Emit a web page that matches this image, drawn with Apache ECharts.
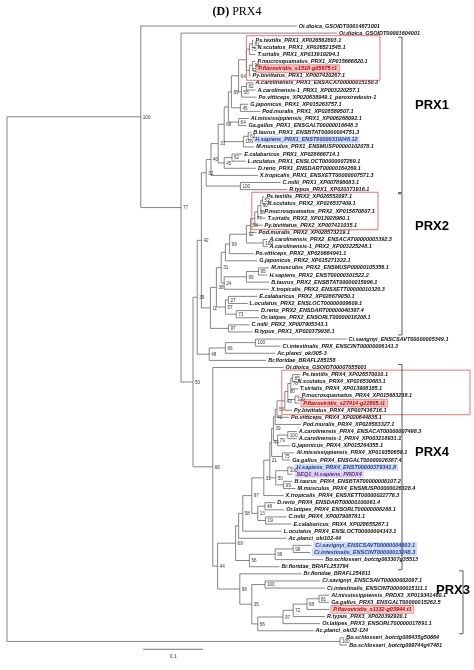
<!DOCTYPE html>
<html><head><meta charset="utf-8">
<script src="https://cdn.jsdelivr.net/npm/echarts@6/dist/echarts.min.js"></script>
<style>html,body{margin:0;padding:0;background:#fff}#c{width:474px;height:670px}</style>
</head><body><div id="c"></div>
<script>
// ---- DATA: tree pieces in Newick (branch lengths in substitutions/site, internal labels = bootstrap) ----
const prx1Clade = "(((((" + "(((((Ps.textilis_PRX1_XP026562803.1:0.002,N.scutatus_PRX1_XP026521545.1:0.005)81:0.005,T.sirtalis_PRX1_XP013919294.1:0.010)75:0.005,((P.mucrosquamatus_PRX1_XP015666820.1:0.005,P.flavoviridis_s1518-g05675.t1:0.003)96:0.005,Py.bivittatus_PRX1_XP007420267.1:0.002)42:0.005):0.013,((A.carolinensis_PRX1_ENSACAT00000015150.3:0.012,A.carolinensis-1_PRX1_XP003220257.1:0.015)82:0.008,Po.vitticeps_XP020638949.1_peroxiredoxin-1:0.025)56:0.005)64:0.012,(G.japonicus_PRX1_XP015263757.1:0.013,Pod.muralis_PRX1_XP028589507.1:0.033)45:0.015)89:0.005,(Al.mississippiensis_PRX1_XP006268092.1:0.017,Ga.gallus_PRX1_ENSGALT00000016648.3:0.013)64:0.017):0.007,((B.taurus_PRX1_ENSBTAT00000004751.3:0.005,H.sapiens_PRX1_ENST00000319248.12:0.005)62:0.008,M.musculus_PRX1_ENSMUSP00000102078.1:0.018)100:0.032)68:0.010,((E.calabaricus_PRX1_XP028666714.1:0.017,L.oculatus_PRX1_ENSLOCT00000007269.1:0.023)62:0.013,D.rerio_PRX1_ENSDART00000164269.1:0.053)45:0.010)33:0.012,X.tropicalis_PRX1_ENSXETT00000007571.3:0.078)40:0.008,(C.milii_PRX1_XP007898083.1:0.067,R.typus_PRX1_XP020371916.1:0.078)100:0.057)32:0.008";
const prx2Clade = "(((((" + "((((((Ps.textilis_PRX2_XP026552097.1:0.003,N.scutatus_PRX2_XP026537409.1:0.005)52:0.003,P.mucrosquamatus_PRX2_XP015670807.1:0.003)90:0.005,T.sirtalis_PRX2_XP013928980.1:0.013)96:0.005,Py.bivittatus_PRX2_XP007421035.1:0.013)77:0.007,Pod.muralis_PRX2_XP028573219.1:0.010)58:0.007,(A.carolinensis_PRX2_ENSACAT00000003392.3:0.007,A.carolinensis-1_PRX2_XP003225248.1:0.007)100:0.028)92:0.028,Po.vitticeps_PRX2_XP020664941.1:0.040)99:0.007,G.japonicus_PRX2_XP015271322.1:0.053):0.007,(((M.musculus_PRX2_ENSMUSP00000105356.1:0.018,H.sapiens_PRX2_ENST00000301522.2:0.015)95:0.020,B.taurus_PRX2_ENSBTAT00000015996.1:0.038)99:0.037,X.tropicalis_PRX2_ENSXETT00000010320.3:0.075)24:0.005)31:0.008,((E.calabaricus_PRX2_XP028679050.1:0.048,L.oculatus_PRX2_ENSLOCT00000009609.1:0.032)27:0.005,(D.rerio_PRX2_ENSDART00000040397.4:0.038,Or.latipes_PRX2_ENSORLT00000018208.1:0.038)73:0.018)57:0.015)38:0.010,(C.milii_PRX2_XP007905343.1:0.035,R.typus_PRX1_XP020379938.1:0.040)97:0.030)11:0.015";
const invClade = "(((Ci.savignyi_ENSCSAVT00000005349.1:0.152,Ci.intestinalis_PRX_ENSCINT00000006141.3:0.042)100:0.050,Ac.planci_oki305-3:0.083)66:0.027,Br.floridae_BRAFL285158:0.095)48:0.020";
const prx4Clade = "(((((((" + "(((((((Ps.textilis_PRX4_XP026570010.1:0.013,N.scutatus_PRX4_XP026530683.1:0.005)85:0.003,T.sirtalis_PRX4_XP013908185.1:0.012)78:0.005,(P.mucrosquamatus_PRX4_XP015683238.1:0.008,P.flavoviridis_s27414-g22805.t1:0.007)100:0.012)80:0.005,Py.bivittatus_PRX4_XP007436716.1:0.012)43:0.013,Po.vitticeps_PRX4_XP020644835.1:0.020)56:0.003,Pod.muralis_PRX4_XP028583327.1:0.043)40:0.003,((A.carolinensis_PRX4_ENSACAT00000007498.3:0.015,A.carolinensis-1_PRX4_XP003218931.1:0.015)100:0.017,G.japonicus_PRX4_XP015264355.1:0.020)79:0.007)39:0.003,(Al.mississippiensis_PRX4_XP019350659.1:0.020,Ga.gallus_PRX4_ENSGALT00000026387.4:0.013)75:0.018)44:0.003,((H.sapiens_PRX4_ENST00000379341.8:0.008,SEQ1_H.sapiens_PRDX4:0.008)100:0.020,(B.taurus_PRX4_ENSBTAT00000008107.2:0.015,M.musculus_PRX4_ENSMUSP00000026328.4:0.020)99:0.013)50:0.010)21:0.010,X.tropicalis_PRX4_ENSXETT00000022776.3:0.033)31:0.020,((D.rerio_PRX4_ENSDART00000100061.4:0.017,Or.latipes_PRX4_ENSORLT00000008268.1:0.032)48:0.012,(C.milii_PRX4_XP007908781.1:0.035,E.calabaricus_PRX4_XP028655267.1:0.043)19:0.013)13:0.010)97:0.015,L.oculatus_PRX4_ENSLOCT00000004143.1:0.065)58:0.007,Ac.planci_oki102-44:0.080):0.005,(((Ci.savignyi_ENSCSAVT00000004003.1:0.030,Ci.intestinalis_ENSCINT00000013248.3:0.028)99:0.030,Bo.schlosseri_botctg063307g35513:0.080)99:0.043,Br.floridae_BRAFL253794:0.050)56:0.023)69:0.030";
const prx3Clade = "(Br.floridae_BRAFL254811:0.103,((Ci.savignyi_ENSCSAVT00000002097.1:0.092,Ci.intestinalis_ENSCINT00000015111.1:0.100)100:0.022,(((((Al.mississippiensis_PRDX3_XP019341460.1:0.017,Ga.gallus_PRX3_ENSGALT00000015262.5:0.017)81:0.020,P.flavoviridis_s1132-g03944.t1:0.037)68:0.023,R.typus_PRX3_XP020392920.1:0.053)72:0.017,Or.latipes_PRX3_ENSORLT00000017891.1:0.062)97:0.042,Ac.planci_oki32-124:0.093)56:0.010)35:0.020)98:0.037";
const backbone = "((Oi.dioica_GSOIDT00014671001:0.260,(Oi.dioica_GSOIDT00001604001:0.260,((({PRX1},{PRX2})42:0.007,{INV})39:0.007,(Oi.dioica_GSOIDT00007055001:0.118,({PRX4},{PRX3})44:0.008)66:0.033)50:0.020)77:0.067)100:0.223,(Bo.schlosseri_botctg006435g50664:0.007,Bo.schlosseri_botctg099744g47481:0.012)100:0.555);";

const redLeaves = ["P.flavoviridis_s1518-g05675.t1","P.flavoviridis_s27414-g22805.t1","P.flavoviridis_s1132-g03944.t1"];
const blueLeaves = ["H.sapiens_PRX1_ENST00000319248.12","H.sapiens_PRX4_ENST00000379341.8","Ci.savignyi_ENSCSAVT00000004003.1","Ci.intestinalis_ENSCINT00000013248.3"];
const purpleLeaves = ["SEQ1_H.sapiens_PRDX4"];
const snakeBoxes = [["Ps.textilis_PRX1_XP026562803.1","Py.bivittatus_PRX1_XP007420267.1"],["Ps.textilis_PRX2_XP026552097.1","Py.bivittatus_PRX2_XP007421035.1"],["Ps.textilis_PRX4_XP026570010.1","Py.bivittatus_PRX4_XP007436716.1"]];
const cladeNames = ["PRX1","PRX2","PRX4","PRX3"];
const cladeFirst = ["Ps.textilis_PRX1_XP026562803.1","Ps.textilis_PRX2_XP026552097.1","Oi.dioica_GSOIDT00007055001","Br.floridae_BRAFL254811"];
const cladeLast = ["R.typus_PRX1_XP020371916.1","R.typus_PRX1_XP020379938.1","Br.floridae_BRAFL253794","Ac.planci_oki32-124"];
const scaleBarLength = 0.1;

// ---- build ----
const newick = backbone.replace("{PRX1}",prx1Clade).replace("{PRX2}",prx2Clade).replace("{INV}",invClade).replace("{PRX4}",prx4Clade).replace("{PRX3}",prx3Clade);
function parse(s){let i=0;function node(){const n={children:[],name:'',len:0};if(s[i]==='('){i++;n.children.push(node());while(s[i]===','){i++;n.children.push(node());}i++;}let nm='';while(i<s.length&&!'(),:;'.includes(s[i]))nm+=s[i++];n.name=nm;if(s[i]===':'){i++;let l='';while(i<s.length&&!'(),;'.includes(s[i]))l+=s[i++];n.len=parseFloat(l);}return n;}return node();}
const root=parse(newick);
const nodes=[];let leafIdx=0;
function lay(n,pd){n.depth=pd+n.len;n.pd=pd;if(!n.children.length){n.y=leafIdx++;}else{n.children.forEach(c=>lay(c,n.depth));n.y=(n.children[0].y+n.children[n.children.length-1].y)/2;n.ymin=n.children[0].y;n.ymax=n.children[n.children.length-1].y;}nodes.push(n);}
lay(root,0);
const nLeaves=leafIdx;
const leafByName={};nodes.forEach(n=>{if(!n.children.length)leafByName[n.name]=n;});
function leafY(name){const l=leafByName[name];return l?l.y:0;}
function minDepthBetween(a,b){let m=1e9;nodes.forEach(n=>{if(!n.children.length&&n.y>=a&&n.y<=b)m=Math.min(m,n.pd);});return m;}

const chart=echarts.init(document.getElementById('c'),null,{renderer:'canvas'});
const FONT='Liberation Sans';
function leafStyle(name){
  if(redLeaves.includes(name))return{fill:'#c00000',backgroundColor:'#f6c9c9',borderColor:'#e06060',borderWidth:0.6};
  if(purpleLeaves.includes(name))return{fill:'#5b2c8f',backgroundColor:'#ddd0f0'};
  if(blueLeaves.includes(name))return{fill:'#1f3f8f',backgroundColor:'#cfdcf5'};
  return{fill:'#111'};
}
const treeData=nodes.map(n=>({value:[n.depth,n.y,n.pd,n.ymin??n.y,n.ymax??n.y,n.children.length?0:1],name:n.name}));
const boxData=snakeBoxes.map((b,k)=>{const a=leafY(b[0]),z=leafY(b[1]);return{value:[minDepthBetween(a,z),a,z,k]};});
const bracketData=cladeNames.map((c,k)=>({value:[leafY(cladeFirst[k]),leafY(cladeLast[k]),k],name:c}));
const boxRightPx=[380,378,470];
const bracketXPx=[402,402,402,463];
const bracketLabelPx=[[432,105],[432,226],[432,452],[453,590]];

chart.setOption({
  animation:false,
  title:{text:'{b|(D)} PRX4',left:'center',top:1,textStyle:{fontFamily:'Liberation Serif',fontSize:12,fontWeight:'normal',color:'#000',rich:{b:{fontFamily:'Liberation Serif',fontSize:12,fontWeight:'bold'}}}},
  grid:{left:7,right:4,top:26,bottom:25},
  xAxis:{type:'value',min:0,max:463/600,show:false},
  yAxis:{type:'value',min:0,max:nLeaves-1,inverse:true,show:false},
  series:[
  {type:'custom',clip:false,data:treeData,renderItem:(p,api)=>{
    const d=api.value(0),y=api.value(1),pd=api.value(2),y0=api.value(3),y1=api.value(4),leaf=api.value(5);
    const P=api.coord([d,y]),Q=api.coord([pd,y]);
    const name=treeData[p.dataIndex].name;
    const ch=[{type:'line',shape:{x1:Q[0],y1:P[1],x2:P[0],y2:P[1]},style:{stroke:'#666',lineWidth:0.8}}];
    if(!leaf){const A=api.coord([d,y0]),B=api.coord([d,y1]);
      ch.push({type:'line',shape:{x1:P[0],y1:A[1],x2:P[0],y2:B[1]},style:{stroke:'#666',lineWidth:0.8}});
      if(name)ch.push({type:'text',style:{x:P[0]+2,y:P[1]+0.5,text:name,fontSize:4.6,fontFamily:FONT,fill:'#333',verticalAlign:'middle'}});
    }else{
      const s=leafStyle(name);
      ch.push({type:'text',style:Object.assign({x:P[0]+2,y:P[1],text:name,fontSize:5.5,fontWeight:'bold',fontStyle:'italic',fontFamily:FONT,verticalAlign:'middle',padding:s.backgroundColor?[0.5,2]:0},s)});
    }
    return{type:'group',children:ch};
  }},
  {type:'custom',clip:false,data:boxData,renderItem:(p,api)=>{
    const A=api.coord([api.value(0),api.value(1)]),B=api.coord([api.value(0),api.value(2)]);
    const x0=A[0]-3,xr=boxRightPx[api.value(3)];
    return{type:'rect',shape:{x:x0,y:A[1]-4.5,width:xr-x0,height:B[1]-A[1]+9},style:{fill:null,stroke:'#e06666',lineWidth:0.9}};
  }},
  {type:'custom',clip:false,data:bracketData,renderItem:(p,api)=>{
    const k=api.value(2);const A=api.coord([0,api.value(0)]),B=api.coord([0,api.value(1)]);
    const x=bracketXPx[k],t=A[1]-3,b=B[1]+3;
    return{type:'group',children:[
      {type:'polyline',shape:{points:[[x-4,t],[x,t],[x,b],[x-4,b]]},style:{stroke:'#333',lineWidth:0.8,fill:null}},
      {type:'text',style:{x:bracketLabelPx[k][0],y:bracketLabelPx[k][1],text:bracketData[k].name,fontSize:13,fontWeight:'bold',fontFamily:FONT,fill:'#000',align:'center',verticalAlign:'middle'}}
    ]};
  }},
  {type:'custom',clip:false,data:[[scaleBarLength]],renderItem:(p,api)=>{
    const A=api.coord([0.227,nLeaves-0.4]),B=api.coord([0.227+api.value(0),nLeaves-0.4]);
    return{type:'group',children:[
      {type:'line',shape:{x1:A[0],y1:A[1],x2:B[0],y2:B[1]},style:{stroke:'#555',lineWidth:0.8}},
      {type:'text',style:{x:(A[0]+B[0])/2,y:A[1]+7,text:String(api.value(0)),fontSize:5,fontFamily:FONT,fill:'#333',align:'center',verticalAlign:'middle'}}
    ]};
  }}
  ]
});
</script></body></html>
